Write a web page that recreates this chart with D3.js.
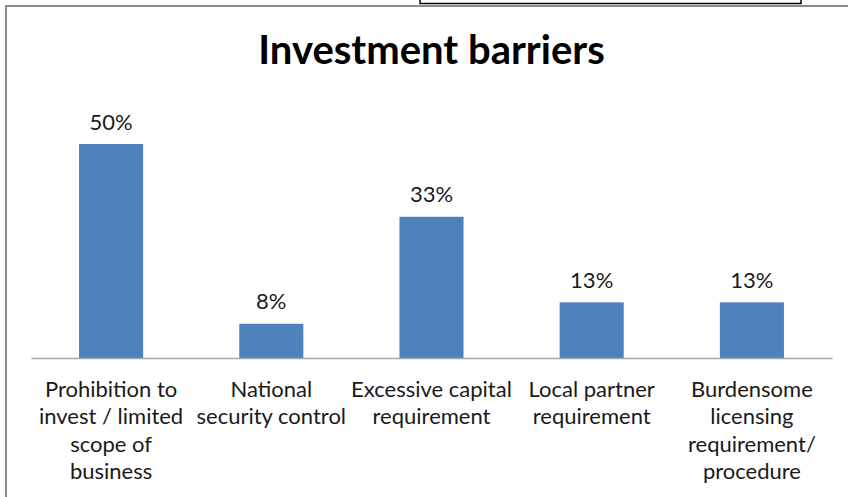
<!DOCTYPE html>
<html>
<head>
<meta charset="utf-8">
<script src="https://cdn.jsdelivr.net/npm/d3@7/dist/d3.min.js"></script>
<style>
  html, body { margin: 0; padding: 0; background: #fff; }
  svg { display: block; }
</style>
</head>
<body>
<svg id="chart" width="848" height="497"></svg>
<script>
// Chart data
const title = "Investment barriers";
const categories = [
  ["Prohibition to", "invest / limited", "scope of", "business"],
  ["National", "security control"],
  ["Excessive capital", "requirement"],
  ["Local partner", "requirement"],
  ["Burdensome", "licensing", "requirement/", "procedure"]
];
const values = [50, 8, 33, 13, 13];
const yDomain = [0, 60];

const W = 848, H = 497;
const plot = { left: 31, right: 832, top: 101.2, bottom: 358 };
const font = "Lato, 'Open Sans', sans-serif";

const svg = d3.select("#chart");

// Outer chart frame (continues past the right and bottom edges)
svg.append("path")
  .attr("d", `M6,${H + 5} L6,6 L${W + 5},6`)
  .attr("fill", "none")
  .attr("stroke", "#8c8c8c")
  .attr("stroke-width", 2);

// Small framed box overlapping the top edge
svg.append("rect")
  .attr("x", 420).attr("y", -5)
  .attr("width", 381).attr("height", 8.5)
  .attr("fill", "#fff")
  .attr("stroke", "#000")
  .attr("stroke-width", 1.5);

const x = d3.scaleBand()
  .domain(d3.range(categories.length))
  .range([plot.left, plot.right])
  .paddingInner(0.6)
  .paddingOuter(0.3);

const y = d3.scaleLinear().domain(yDomain).range([plot.bottom, plot.top]);

// Title
svg.append("text")
  .attr("x", (plot.left + plot.right) / 2)
  .attr("y", 64)
  .attr("text-anchor", "middle")
  .attr("font-family", font)
  .attr("font-weight", "bold")
  .attr("font-size", 40)
  .attr("fill", "#000")
  .text(title);

// Bars
svg.append("g").selectAll("rect")
  .data(values)
  .join("rect")
  .attr("x", (d, i) => x(i))
  .attr("y", d => y(d))
  .attr("width", x.bandwidth())
  .attr("height", d => y(0) - y(d))
  .attr("fill", "#4f81bd");

// Value labels
svg.append("g").selectAll("text")
  .data(values)
  .join("text")
  .attr("x", (d, i) => x(i) + x.bandwidth() / 2)
  .attr("y", d => y(d) - 14.5)
  .attr("text-anchor", "middle")
  .attr("font-family", font)
  .attr("font-size", 22)
  .attr("fill", "#1a1a1a")
  .text(d => d + "%");

// Category axis
const xAxis = d3.axisBottom(x).tickSize(0).tickFormat("");
const axisG = svg.append("g")
  .attr("transform", `translate(0,${plot.bottom})`)
  .call(xAxis);
axisG.select(".domain")
  .attr("stroke", "#a6a6a6")
  .attr("stroke-width", 1.5);

// Multi-line category labels
const labelG = svg.append("g")
  .attr("font-family", font)
  .attr("font-size", 22)
  .attr("fill", "#1a1a1a")
  .attr("text-anchor", "middle");
categories.forEach((lines, i) => {
  const cx = x(i) + x.bandwidth() / 2;
  const t = labelG.append("text").attr("x", cx).attr("y", 396.5);
  lines.forEach((line, j) => {
    t.append("tspan")
      .attr("x", cx)
      .attr("dy", j === 0 ? 0 : 27.5)
      .text(line);
  });
});
</script>
</body>
</html>
